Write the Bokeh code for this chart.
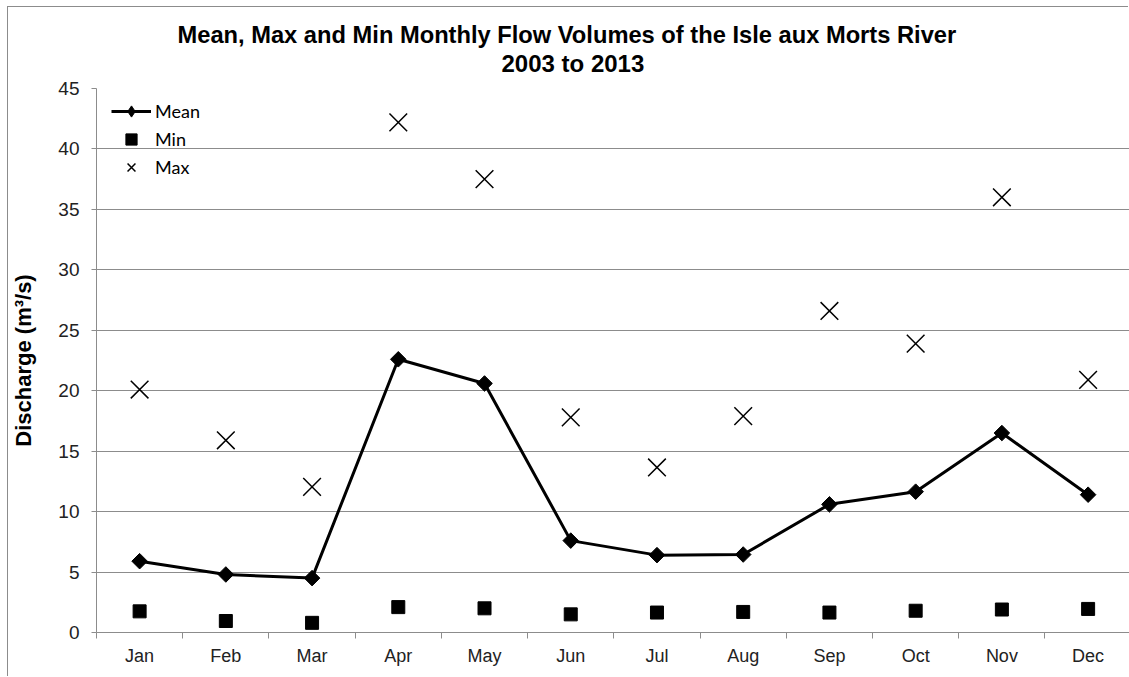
from bokeh.plotting import figure
from bokeh.models import Range1d, FixedTicker, Legend, LegendItem, Title
from bokeh.embed import file_html
from bokeh.resources import INLINE
import math

months = ["Jan", "Feb", "Mar", "Apr", "May", "Jun", "Jul", "Aug", "Sep", "Oct", "Nov", "Dec"]
mean_flow = [5.9, 4.8, 4.5, 22.6, 20.6, 7.6, 6.4, 6.45, 10.6, 11.65, 16.5, 11.4]
min_flow = [1.75, 0.95, 0.8, 2.1, 2.0, 1.5, 1.65, 1.7, 1.65, 1.8, 1.9, 1.95]
max_flow = [20.1, 15.9, 12.05, 42.2, 37.5, 17.8, 13.65, 17.9, 26.6, 23.9, 36.0, 20.9]
y_ticks = [0, 5, 10, 15, 20, 25, 30, 35, 40, 45]
title_line1 = "Mean, Max and Min Monthly Flow Volumes of the Isle aux Morts River"
title_line2 = "2003 to 2013"

xs = list(range(1, len(months) + 1))
GRAY = "#8c8c8c"
FONT = "Liberation Sans"

p = figure(width=1121, height=670, output_backend="svg", toolbar_location=None,
           x_range=Range1d(0.5, 12.48), y_range=Range1d(0, 45),
           min_border_left=85, min_border_right=0, min_border_top=81, min_border_bottom=45,
           styles={"margin-left": "8px", "margin-top": "7px",
                   "box-shadow": "-1px -1px 0 0 #8c8c8c"})
p.outline_line_color = None

# x axis
p.xaxis.ticker = FixedTicker(ticks=xs, minor_ticks=[i + 0.5 for i in range(0, 13)])
p.xaxis.major_label_overrides = {i + 1: m for i, m in enumerate(months)}
p.xaxis.major_tick_line_color = None
p.xaxis.major_tick_out = 0
p.xaxis.major_tick_in = 0
p.xaxis.minor_tick_out = 6
p.xaxis.minor_tick_in = 0
p.xaxis.minor_tick_line_color = GRAY
p.xaxis.axis_line_color = GRAY
p.xaxis.major_label_standoff = 7
p.xaxis.major_label_text_font = FONT
p.xaxis.major_label_text_font_size = "18px"
p.xaxis.major_label_text_color = "#222222"
p.xgrid.grid_line_color = None

# y axis
p.yaxis.ticker = FixedTicker(ticks=y_ticks)
p.yaxis.minor_tick_line_color = None
p.yaxis.major_tick_out = 5
p.yaxis.major_tick_in = 0
p.yaxis.major_tick_line_color = GRAY
p.yaxis.axis_line_color = GRAY
p.yaxis.major_label_standoff = 12
p.yaxis.major_label_text_font = FONT
p.yaxis.major_label_text_font_size = "19px"
p.yaxis.major_label_text_color = "#222222"
p.yaxis.axis_label = "Discharge (m³/s)"
p.yaxis.axis_label_text_font = FONT
p.yaxis.axis_label_text_font_style = "bold"
p.yaxis.axis_label_text_font_size = "22px"
p.yaxis.axis_label_text_color = "black"
p.yaxis.axis_label_standoff = 19
p.ygrid.grid_line_color = GRAY
p.ygrid.grid_line_width = 1

# data
r_line = p.line(xs, mean_flow, line_color="black", line_width=3)
r_mean_leg = p.scatter(xs, mean_flow, marker="diamond", size=11, color="black")
p.scatter(xs, mean_flow, marker="square", angle=math.pi / 4, size=11, color="black")
r_min = p.scatter(xs, min_flow, marker="square", size=13, color="black")
r_max = p.scatter(xs, max_flow, marker="x", size=25, line_color="black", line_width=1.5)

legend = Legend(items=[
    LegendItem(label="Mean", renderers=[r_line, r_mean_leg]),
    LegendItem(label="Min", renderers=[r_min]),
    LegendItem(label="Max", renderers=[r_max]),
], location=(15, 451))
legend.glyph_width = 40
legend.glyph_height = 28
legend.spacing = 0
legend.padding = 0
legend.margin = 0
legend.label_standoff = 4
legend.label_text_font = "Lato"
legend.label_text_font_size = "18px"
legend.label_text_color = "black"
legend.background_fill_alpha = 0
legend.border_line_color = None
p.add_layout(legend)

# titles (stacked upward from the frame)
p.add_layout(Title(text=" ", text_font_size="8px", standoff=1), "above")
p.add_layout(Title(text=title_line2, align="left", offset=405, standoff=0,
                   text_font=FONT, text_font_style="bold", text_font_size="24px",
                   text_color="black"), "above")
p.add_layout(Title(text=title_line1, align="left", offset=81, standoff=0,
                   text_font=FONT, text_font_style="bold", text_font_size="23.7px",
                   text_color="black"), "above")

open("out.html", "w").write(file_html(p, INLINE))
